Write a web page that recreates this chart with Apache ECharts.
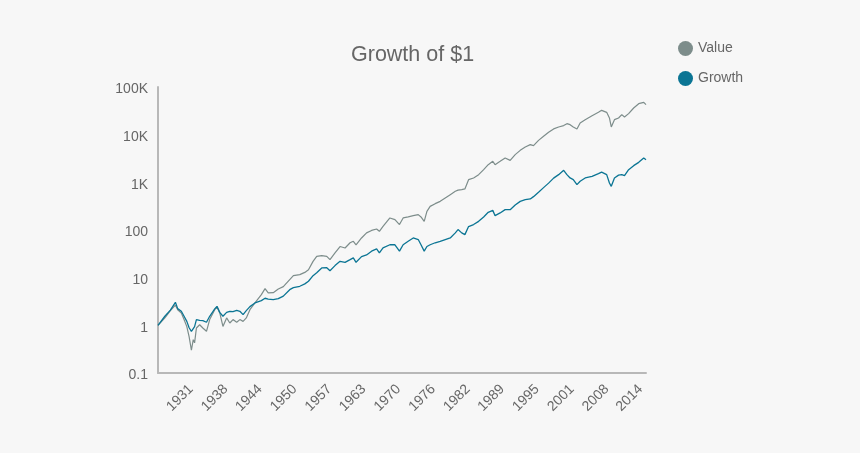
<!DOCTYPE html>
<html><head><meta charset="utf-8">
<script src="https://cdn.jsdelivr.net/npm/echarts@6/dist/echarts.min.js"></script>
<style>html,body{margin:0;padding:0;background:#f7f7f7}#c{width:860px;height:453px}</style>
</head><body><div id="c"></div><script>
const dates = ['1926-07','1927-10','1928-10','1929-09','1930-02','1930-10','1931-04','1931-10','1932-03','1932-08','1932-12','1933-03','1933-07','1934-02','1934-09','1935-05','1935-12','1936-11','1937-04','1937-10','1938-05','1939-01','1939-08','1940-03','1940-11','1941-06','1942-01','1942-08','1943-04','1944-03','1945-05','1946-01','1946-08','1947-07','1948-06','1949-05','1950-07','1951-03','1952-05','1953-04','1953-12','1954-10','1955-06','1956-05','1957-04','1957-11','1958-10','1959-09','1960-08','1961-07','1962-02','1962-08','1963-08','1964-07','1965-06','1966-05','1966-11','1967-07','1968-10','1969-09','1970-07','1971-03','1972-02','1973-01','1973-12','1974-06','1975-01','1975-07','1976-02','1977-01','1977-12','1978-11','1979-10','1980-09','1981-03','1981-11','1982-06','1983-02','1984-01','1984-12','1985-11','1986-09','1987-07','1987-12','1988-11','1989-10','1990-09','1991-08','1992-07','1993-06','1994-05','1994-12','1995-11','1996-10','1997-09','1998-08','1999-07','2000-06','2001-01','2001-08','2002-03','2002-11','2003-06','2004-05','2005-08','2006-10','2007-05','2008-04','2008-10','2009-02','2009-09','2010-06','2011-01','2011-07','2012-04','2013-03','2014-02','2015-01','2015-06'];
const valueSeries = [1.0,1.43,2.03,2.65,2.13,1.82,1.32,0.94,0.58,0.30,0.50,0.43,0.88,1.03,0.88,0.75,1.32,2.13,2.43,1.82,0.95,1.43,1.12,1.32,1.16,1.32,1.21,1.43,2.13,2.95,4.4,5.9,4.78,4.85,5.8,6.5,9.1,11.0,11.6,12.9,14.7,22,28,29,28,23.9,33,45,42,54,58,49,68,87,98,105,94,119,179,165,130,179,188,200,210,188,152,246,313,357,399,471,552,648,686,703,727,1138,1236,1449,1846,2350,2755,2350,2755,3250,2893,3811,4690,5524,6180,5890,7600,9230,11200,13200,14500,15500,17000,16200,14500,13200,17600,20650,25000,29400,32350,29400,22400,14500,20650,22400,26300,23550,27600,36300,44700,47700,42650];
const growthSeries = [1.0,1.55,2.08,3.04,2.24,1.97,1.55,1.21,0.89,0.75,0.70,0.94,1.32,1.27,1.25,1.16,1.55,2.21,2.50,1.87,1.55,1.87,1.97,1.94,2.06,1.97,1.68,2.03,2.47,2.95,3.3,3.7,3.55,3.46,3.63,4.1,5.6,6.2,6.6,7.4,8.4,11.0,12.7,16.0,16.2,14.0,17.9,22,21,23.9,26,21,27.6,30,36,40,33,42,49,49,36,49,58,68,63,49,36,45,49,54,58,63,68,87,102,87,80,118,130,152,188,235,258,200,228,267,267,335,399,433,448,501,622,774,962,1225,1450,1786,1450,1236,1138,894,1050,1236,1336,1521,1636,1450,970,824,1236,1415,1450,1380,1846,2240,2625,3250,2990];
const yTickLabels = ['0.1','1','10','100','1K','10K','100K'];
const xTickLabels = ['1931','1938','1944','1950','1957','1963','1970','1976','1982','1989','1995','2001','2008','2014'];
const xTickDates = ['1932-07','1938-11','1945-02','1951-06','1957-10','1964-01','1970-05','1976-09','1983-01','1989-04','1995-08','2001-12','2008-04','2014-06'];
const xMin = '1926-07', xMax = '2015-06';

function ts(s){ const p = s.split('-').map(Number); return Date.UTC(p[0], p[1]-1, 1); }
const tickTs = xTickDates.map(ts);
const FONT = '"Liberation Sans", Arial, sans-serif';
const chart = echarts.init(document.getElementById('c'));
chart.setOption({
  backgroundColor: '#f7f7f7',
  animation: false,
  title: { text: 'Growth of $1', left: 346, top: 39, textStyle: { fontSize: 21.5, fontWeight: 'normal', color: '#666', fontFamily: FONT } },
  legend: {
    orient: 'vertical', left: 673, top: 36, itemWidth: 15, itemHeight: 15, itemGap: 15, icon: 'circle',
    textStyle: { fontSize: 14, color: '#666', fontFamily: FONT },
    data: ['Value', 'Growth']
  },
  grid: { left: 158, right: 214, top: 87, bottom: 80, containLabel: false },
  xAxis: {
    type: 'value', min: ts(xMin), max: ts(xMax),
    axisLine: { show: true, onZero: false, lineStyle: { color: '#b8b8b8', width: 2 } },
    axisTick: { show: false }, splitLine: { show: false },
    axisLabel: {
      customValues: tickTs, rotate: 45, margin: 14, color: '#666', fontSize: 14, fontFamily: FONT,
      showMinLabel: true, showMaxLabel: true, hideOverlap: false,
      formatter: function (v) { let best = 0; for (let i = 0; i < tickTs.length; i++) if (Math.abs(tickTs[i]-v) < Math.abs(tickTs[best]-v)) best = i; return xTickLabels[best]; }
    }
  },
  yAxis: {
    type: 'log', logBase: 10, min: 0.1, max: 100000,
    axisLine: { show: true, onZero: false, lineStyle: { color: '#b8b8b8', width: 2 } },
    axisTick: { show: false }, splitLine: { show: false },
    axisLabel: { margin: 10, color: '#666', fontSize: 14, fontFamily: FONT, verticalAlign: 'top', lineHeight: 5,
      formatter: function (v) { return yTickLabels[Math.round(Math.log10(v)) + 1]; } }
  },
  series: [
    { name: 'Value', type: 'line', showSymbol: false, symbol: 'none', data: dates.map((d, i) => [ts(d), valueSeries[i]]), lineStyle: { width: 1.2, color: '#7d8d8b' }, itemStyle: { color: '#7d8d8b' } },
    { name: 'Growth', type: 'line', showSymbol: false, symbol: 'none', data: dates.map((d, i) => [ts(d), growthSeries[i]]), lineStyle: { width: 1.3, color: '#0b7594' }, itemStyle: { color: '#0b7594' } }
  ]
});
</script></body></html>
